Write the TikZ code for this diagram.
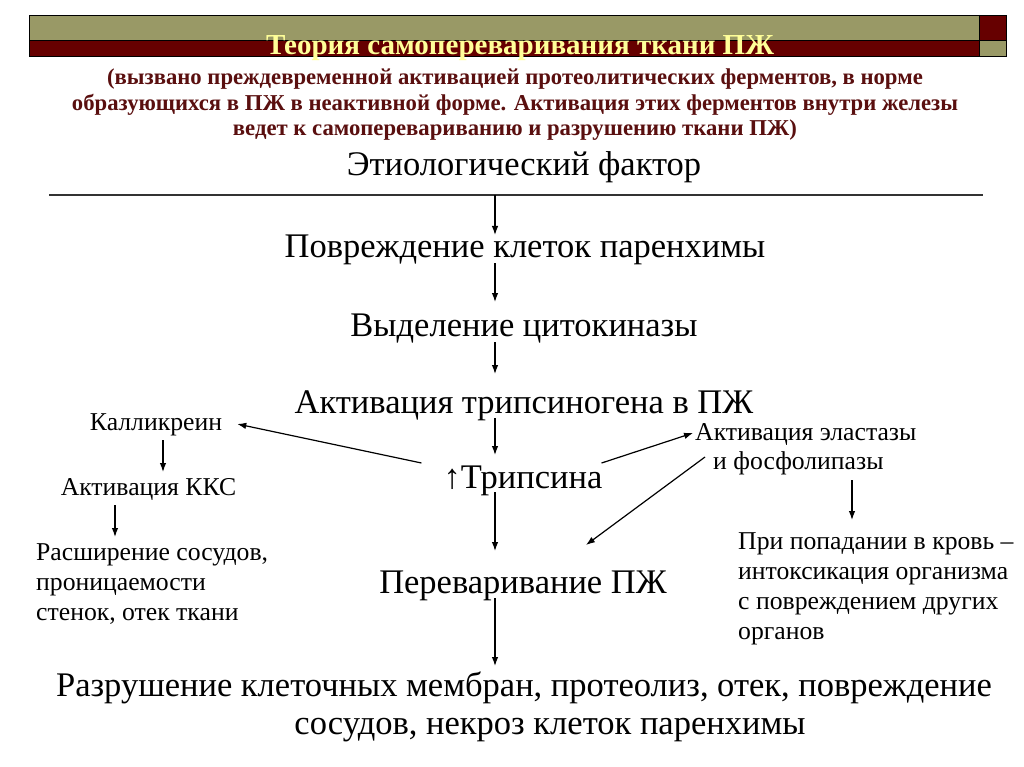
\documentclass[tikz,border=0pt]{standalone}
\usepackage{fontspec}
\setmainfont{Liberation Serif}
\usetikzlibrary{arrows.meta}
\definecolor{bandolive}{HTML}{999966}
\definecolor{banddred}{HTML}{660000}
\definecolor{titleyel}{HTML}{FFFF99}
\definecolor{notered}{HTML}{5A0F0F}
\tikzset{
  txt/.style={inner sep=0pt, anchor=base, text=black},
  mainfont/.style={font=\fontsize{34.5}{38}\selectfont},
  sidefont/.style={font=\fontsize{25.7}{30}\selectfont},
  arr/.style={line width=1.2pt, -{Latex[length=9pt,width=6.5pt]}},
  bandline/.style={line width=0.9pt, draw=black},
}
\begin{document}
\begin{tikzpicture}[x=1pt,y=-1pt]
\useasboundingbox[fill=white] (0,0) rectangle (1024,767);
% header bands
\fill[bandolive] (29,15) rectangle (979,40);
\fill[banddred] (29,40) rectangle (979,56);
\fill[banddred] (979,15) rectangle (1006,40);
\fill[bandolive] (979,40) rectangle (1006,56);
\draw[bandline] (29,15) rectangle (1006,56);
\draw[bandline] (29,40) -- (1006,40);
\draw[bandline] (979,15) -- (979,56);
% title
\node[txt, text=titleyel, font=\bfseries\fontsize{29}{32}\selectfont] (title) at (520,55) {Теория самопереваривания ткани ПЖ};
\node[inner sep=0pt, anchor=base, align=center, text=notered, font=\bfseries\fontsize{22.7}{25.5}\selectfont] (note) at (515,136)
  {(вызвано преждевременной активацией протеолитических ферментов, в норме\\
   образующихся в ПЖ в неактивной форме. Активация этих ферментов внутри железы\\
   ведет к самоперевариванию и разрушению ткани ПЖ)};
% main column
\node[txt, mainfont] (etio) at (524,176) {Этиологический фактор};
\coordinate (lineL) at (49,195);
\coordinate (lineR) at (983,195);
\draw[line width=1.2pt, draw=black!80] (lineL) -- (lineR);
\coordinate (col) at (495,0);
\node[txt, mainfont] (pov) at (525,257) {Повреждение клеток паренхимы};
\node[txt, mainfont] (vyd) at (524,336) {Выделение цитокиназы};
\node[txt, mainfont] (akt) at (524,413) {Активация трипсиногена в ПЖ};
\node[txt, mainfont] (tryp) at (523,488) {↑Трипсина};
\node[txt, mainfont] (perev) at (523,593) {Переваривание ПЖ};
\node[inner sep=0pt, anchor=base, align=center, mainfont] (razr) at (524,734)
  {Разрушение клеточных мембран, протеолиз, отек, повреждение\\
   \hspace*{52pt}сосудов, некроз клеток паренхимы};
\draw[arr] (col |- lineL) -- ([shift={(0,-22)}]col |- pov.base);
\draw[arr] ([shift={(0,6)}]col |- pov.base) -- ([shift={(0,-34)}]col |- vyd.base);
\draw[arr] ([shift={(0,6)}]col |- vyd.base) -- ([shift={(0,-39)}]col |- akt.base);
\draw[arr] ([shift={(0,5)}]col |- akt.base) -- ([shift={(0,-33)}]col |- tryp.base);
\draw[arr] ([shift={(0,4)}]col |- tryp.base) -- ([shift={(0,-42)}]col |- perev.base);
\draw[arr] ([shift={(0,5)}]col |- perev.base) -- ([shift={(0,-68)}]col |- razr.base);
% left branch
\node[txt, sidefont] (kall) at (156,430) {Калликреин};
\node[txt, sidefont] (kks) at (148.5,495) {Активация ККС};
\node[inner sep=0pt, anchor=base west, align=left, sidefont] (rassh) at (36,620)
  {Расширение сосудов,\\проницаемости\\стенок, отек ткани};
\coordinate (kcol) at (163,0);
\coordinate (lcol) at (115,0);
\draw[arr] ([shift={(-22,-25)}]tryp.base west) -- ([shift={(15,-6)}]kall.base east);
\draw[arr] ([shift={(0,10)}]kcol |- kall.base) -- ([shift={(0,-23)}]kcol |- kks.base);
\draw[arr] ([shift={(0,10)}]lcol |- kks.base) -- ([shift={(0,-83)}]lcol |- rassh.base);
% right branch
\node[inner sep=0pt, anchor=base west, sidefont] (el1) at (695,440) {Активация эластазы};
\node[inner sep=0pt, anchor=base west, sidefont] (el2) at (713,469) {и фосфолипазы};
\node[inner sep=0pt, anchor=base west, align=left, sidefont] (blood) at (738,639)
  {При попадании в кровь –\\интоксикация организма\\с повреждением других\\органов};
\coordinate (rcol) at (852,0);
\draw[arr] ([shift={(-1,-25)}]tryp.base east) -- ([shift={(-2,-7)}]el1.base west);
\draw[arr] ([shift={(-8,-12)}]el2.base west) -- ([shift={(-81,-48)}]perev.base east);
\draw[arr] ([shift={(0,11)}]rcol |- el2.base) -- ([shift={(0,-119)}]rcol |- blood.base);
\end{tikzpicture}
\end{document}
